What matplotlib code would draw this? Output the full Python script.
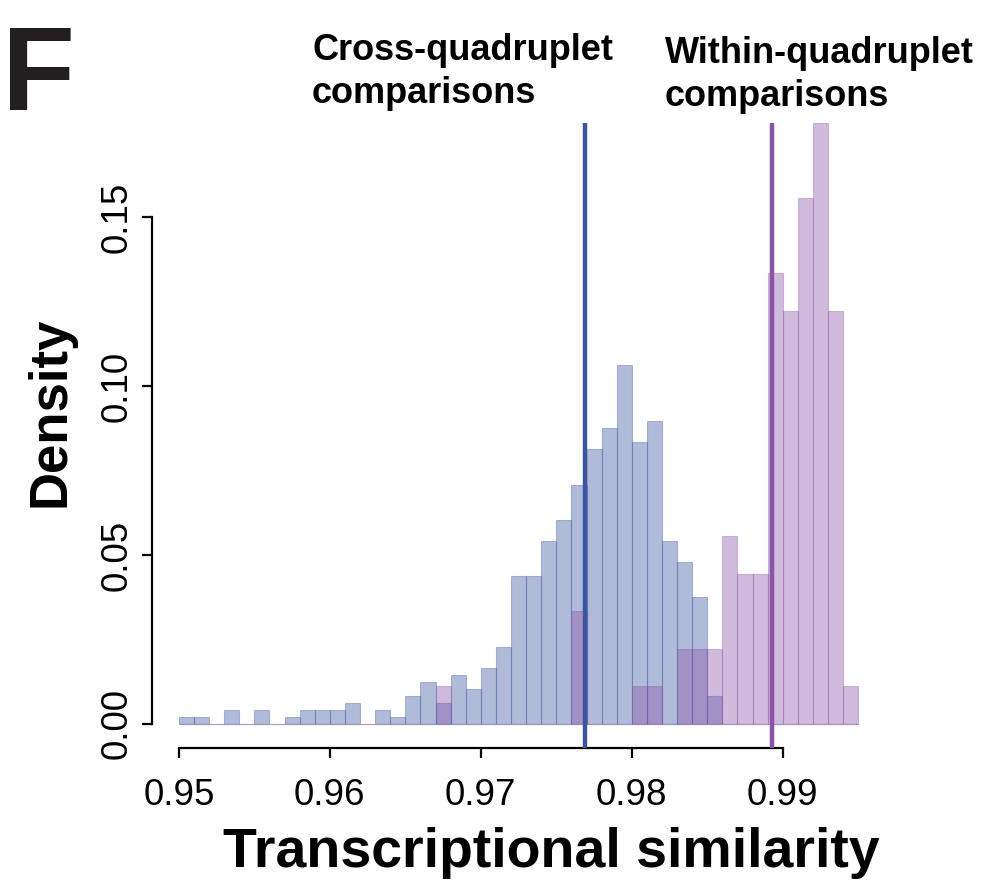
import numpy as np
import matplotlib
matplotlib.use("Agg")
import matplotlib.pyplot as plt

plt.rcParams['font.family'] = ['Liberation Sans', 'DejaVu Sans']

# histogram bins of width 0.001 from 0.950 to 0.995
bin_edges = np.round(np.arange(0.950, 0.9951, 0.001), 3)

# relative frequency per bin, cross-quadruplet pairs
cross_density = [0.0021, 0.0021, 0.0, 0.0042, 0.0, 0.0042, 0.0, 0.0021, 0.0042, 0.0042,
                 0.0042, 0.0063, 0.0, 0.0042, 0.0021, 0.0083, 0.0125, 0.0063, 0.0146, 0.0104,
                 0.0167, 0.0229, 0.0438, 0.0438, 0.0542, 0.0604, 0.0708, 0.0813, 0.0875, 0.1063,
                 0.0833, 0.0896, 0.0542, 0.0479, 0.0375, 0.0083, 0.0, 0.0, 0.0, 0.0,
                 0.0, 0.0, 0.0, 0.0, 0.0]

# relative frequency per bin, within-quadruplet pairs
within_density = [0.0, 0.0, 0.0, 0.0, 0.0, 0.0, 0.0, 0.0, 0.0, 0.0,
                  0.0, 0.0, 0.0, 0.0, 0.0, 0.0, 0.0, 0.0111, 0.0, 0.0,
                  0.0, 0.0, 0.0, 0.0, 0.0, 0.0, 0.0333, 0.0, 0.0, 0.0,
                  0.0111, 0.0111, 0.0, 0.0222, 0.0222, 0.0222, 0.0556, 0.0444, 0.0444, 0.1333,
                  0.1222, 0.1556, 0.1778, 0.1222, 0.0111]

cross_mean = 0.9769
within_mean = 0.9893

x_ticks = [0.95, 0.96, 0.97, 0.98, 0.99]
y_ticks = [0.00, 0.05, 0.10, 0.15]

blue = (59 / 255, 85 / 255, 160 / 255)
purple = (138 / 255, 85 / 255, 168 / 255)

fig = plt.figure(figsize=(9.9, 8.9), dpi=100)
ax = fig.add_axes([0.1532, 0.1596, 0.7412, 0.7292])

lefts = bin_edges[:-1]
width = 0.001
ax.bar(lefts, cross_density, width=width, align='edge',
       color=blue + (0.4,), edgecolor=blue + (0.35,), linewidth=0.8)
ax.bar(lefts, within_density, width=width, align='edge',
       color=purple + (0.4,), edgecolor=purple + (0.35,), linewidth=0.8)

ymin = -0.0071
ytop = max(within_density)
ax.vlines(cross_mean, ymin, ytop, color=blue, linewidth=3.2, zorder=5)
ax.vlines(within_mean, ymin, ytop, color=purple, linewidth=3.2, zorder=5)

ax.set_xlim(0.9482, 0.9968)
ax.set_ylim(ymin, 0.1849)

for s in ['top', 'right']:
    ax.spines[s].set_visible(False)
ax.spines['left'].set_bounds(0.0, 0.15)
ax.spines['bottom'].set_bounds(0.95, 0.99)
for s in ['left', 'bottom']:
    ax.spines[s].set_linewidth(1.6)

ax.set_xticks(x_ticks)
ax.set_xticklabels([f"{t:.2f}" for t in x_ticks])
ax.set_yticks(y_ticks)
ax.set_yticklabels([f"{t:.2f}" for t in y_ticks], rotation=90, va='center')
ax.tick_params(axis='both', length=7.5, width=1.6, labelsize=26.5)
ax.tick_params(axis='x', pad=14)
ax.tick_params(axis='y', pad=5)

ax.set_xlabel("Transcriptional similarity", fontsize=40, fontweight='bold')
ax.xaxis.set_label_coords(0.544, -0.122)
ax.xaxis.label.set_va('top')
ax.set_ylabel("Density", fontsize=38, fontweight='bold')
ax.yaxis.set_label_coords(-0.104, 0.518)

fig.text(312 / 990, 1 - 33 / 890, "Cross-quadruplet\ncomparisons", fontsize=26,
         fontweight='bold', ha='left', va='top', linespacing=1.3)
fig.text(665 / 990, 1 - 36 / 890, "Within-quadruplet\ncomparisons", fontsize=26,
         fontweight='bold', ha='left', va='top', linespacing=1.3)
fig.text(0.002, 1 - 24 / 890, "F", fontsize=86, fontweight='bold', color='#231f20',
         ha='left', va='top')

fig.savefig("out.png", dpi=100)
